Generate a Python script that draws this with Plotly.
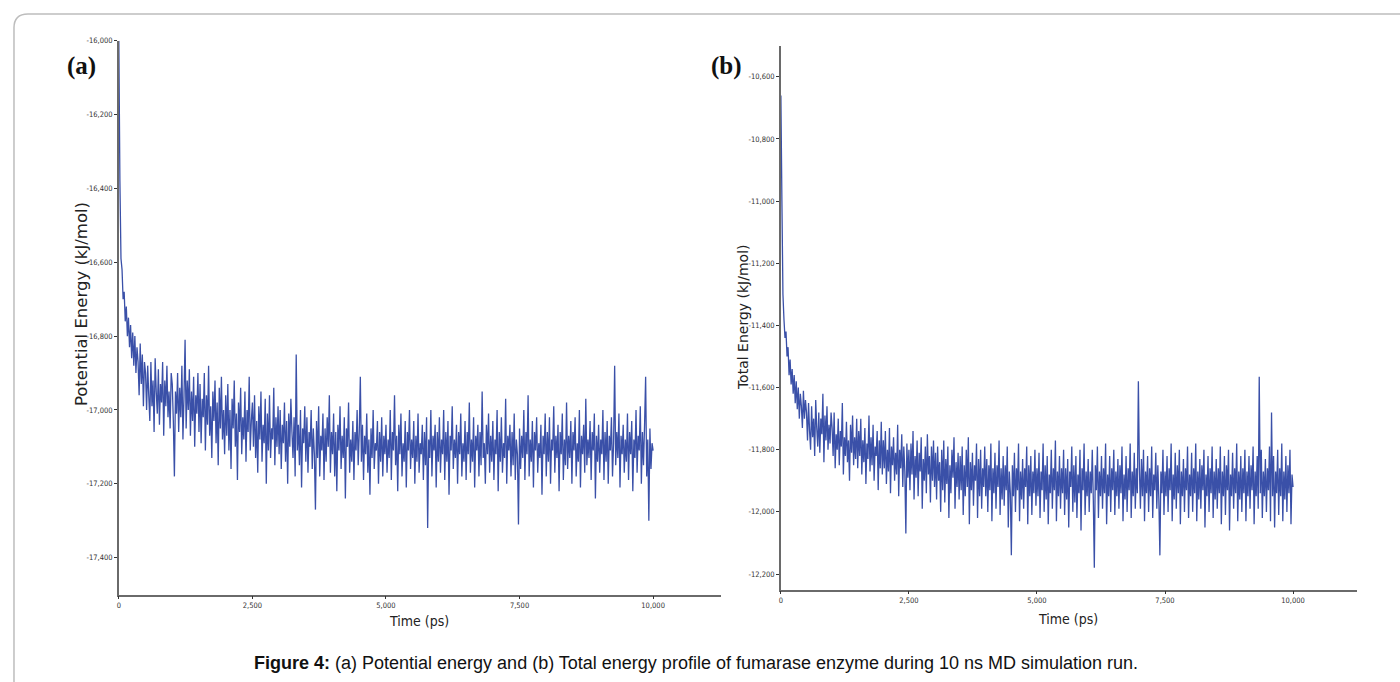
import plotly.graph_objects as go

# ---------------- data ----------------
SAMPLE_INTERVAL_PS = 20

potential_energy = [
    -16000, -16380, -16590, -16620, -16700, -16680, -16760, -16720, -16800, -16750, -16830, -16770, -16860, -16790, -16880, -16800, -16900, -16830, -16870, -16960, -16820, -16930, -16850, -16990, -16870,
    -16900, -17000, -16880, -16960, -17030, -16870, -16990, -16920, -17060, -16860, -16950, -17010, -16890, -17040, -16930, -16980, -16870, -17070, -16920, -16990, -16880, -17020, -16950, -17050, -16900,
    -16930, -17030, -17180, -16950, -17010, -16900, -17060, -16940, -17020, -16880, -17080, -16960, -16810, -17050, -16920, -17000, -16890, -17070, -16950, -17030, -16910, -17100, -16960, -17010, -16900,
    -17060, -16930, -17090, -16970, -17020, -16900, -17110, -16960, -17040, -16880, -17070, -16990, -17130, -16950, -17030, -16920, -17090, -16980, -17150, -16940, -17050, -16910, -17080, -17000, -17120,
    -16960, -17070, -16930, -17110, -17000, -17160, -16970, -17050, -16920, -17100, -17010, -17190, -16980, -17060, -16940, -17120, -17020, -17080, -16950, -17140, -17000, -17060, -16910, -17110, -17030,
    -16980, -17100, -16960, -17130, -17030, -17170, -16990, -17080, -16950, -17140, -17040, -17090, -16970, -17200, -17010, -17110, -16960, -17130, -17050, -17080, -16940, -17150, -17020, -17100, -16990,
    -17120, -17000, -17160, -17040, -17090, -16980, -17140, -17030, -17200, -17010, -17100, -16970, -17060, -17130, -17020, -17180, -16850, -17110, -17040, -17150, -17000, -17210, -17050, -17090, -16990,
    -17140, -17020, -17170, -17060, -17100, -17000, -17160, -17050, -17120, -17270, -17030, -17130, -16990, -17180, -17070, -17110, -17010, -17190, -17050, -17140, -17020, -17100, -16960, -17170, -17060,
    -17120, -17010, -17180, -17060, -17220, -17040, -17110, -16990, -17160, -17070, -17130, -17020, -17240, -17050, -17100, -16980, -17170, -17080, -17140, -17030, -17190, -17060, -17110, -17000, -17150,
    -17060, -16910, -17140, -17040, -17190, -17070, -17120, -17010, -17170, -17080, -17230, -17050, -17130, -17000, -17160, -17090, -17110, -17030, -17200, -17060, -17140, -17020, -17180, -17070, -17120,
    -17040, -17170, -17080, -17130, -17000, -17190, -17060, -17110, -16960, -17150, -17070, -17220, -17040, -17120, -17010, -17180, -17090, -17140, -17030, -17210, -17060, -17110, -17000, -17160, -17080,
    -17130, -17030, -17200, -17070, -17140, -17010, -17170, -17090, -17120, -17040, -17190, -17060, -17150, -17020, -17320, -17080, -17130, -17000, -17180, -17070, -17110, -17040, -17210, -17060, -17140,
    -17020, -17170, -17080, -17120, -17000, -17190, -17060, -17140, -17030, -17230, -17070, -17110, -16990, -17160, -17080, -17130, -17040, -17200, -17060, -17120, -17010, -17180, -17090, -17140, -17030,
    -17190, -17060, -17120, -16980, -17170, -17080, -17140, -17020, -17210, -17070, -17110, -17040, -17180, -17060, -17150, -16950, -17130, -17090, -17200, -17040, -17120, -17010, -17170, -17070, -17140,
    -17030, -17190, -17080, -17120, -17000, -17220, -17060, -17140, -17020, -17170, -17090, -17130, -16970, -17200, -17070, -17110, -17040, -17180, -17060, -17150, -17010, -17190, -17080, -17120, -17310,
    -17050, -17160, -17070, -17130, -17000, -17190, -17060, -17120, -16960, -17180, -17080, -17140, -17030, -17210, -17060, -17110, -17020, -17170, -17090, -17130, -17040, -17230, -17070, -17120, -17010,
    -17180, -17060, -17140, -17020, -17200, -17080, -17110, -16990, -17170, -17070, -17130, -17040, -17220, -17060, -17120, -17010, -17190, -17080, -17150, -16980, -17160, -17070, -17130, -17030, -17200,
    -17060, -17110, -17020, -17180, -17090, -17140, -17000, -17210, -17070, -17120, -17040, -17170, -16970, -17150, -17080, -17130, -17030, -17190, -17060, -17110, -17010, -17240, -17070, -17140, -17040,
    -17170, -17080, -17120, -17000, -17190, -17060, -17140, -17030, -17200, -17070, -17110, -17020, -17180, -17090, -16880, -17150, -17060, -17130, -17010, -17210, -17070, -17120, -17040, -17170, -17080,
    -17140, -17010, -17190, -17060, -17120, -17030, -17220, -17080, -17130, -17000, -17170, -17070, -17110, -16990, -17200, -17060, -17150, -17040, -16910, -17180, -17080, -17300, -17050, -17160, -17090,
    -17110,
]

total_energy = [
    -10660, -11000, -11300, -11380, -11440, -11420, -11500, -11470, -11560, -11510, -11590, -11540, -11620, -11560, -11650, -11580, -11670, -11600, -11700, -11620, -11660, -11730, -11610, -11700, -11640,
    -11680, -11770, -11650, -11740, -11800, -11660, -11760, -11700, -11820, -11640, -11730, -11790, -11680, -11810, -11700, -11750, -11620, -11840, -11690, -11770, -11660, -11800, -11720, -11780, -11680,
    -11730, -11820, -11680, -11860, -11750, -11800, -11700, -11850, -11740, -11790, -11650, -11880, -11760, -11820, -11710, -11840, -11770, -11900, -11720, -11810, -11690, -11850, -11760, -11830, -11700,
    -11860, -11740, -11820, -11700, -11880, -11770, -11840, -11730, -11910, -11780, -11830, -11690, -11870, -11760, -11850, -11720, -11900, -11790, -11820, -11740, -11930, -11770, -11860, -11710, -11880,
    -11770, -11860, -11740, -11910, -11800, -11870, -11730, -11940, -11790, -11850, -11760, -11900, -11810, -11880, -11720, -11950, -11800, -11860, -11750, -11920, -11790, -11870, -12070, -11780, -11890,
    -11800, -11930, -11780, -11880, -11740, -11960, -11820, -11890, -11770, -11950, -11810, -11870, -11760, -11990, -11830, -11900, -11790, -11940, -11750, -11880, -11820, -11970, -11790, -11900, -11770,
    -11920, -11810, -11960, -11790, -11900, -11840, -12000, -11800, -11930, -11770, -11970, -11830, -11910, -11790, -12020, -11850, -11940, -11800, -11890, -11760, -11990, -11840, -11920, -11810, -11960,
    -11820, -11930, -11790, -12010, -11850, -11950, -11800, -11920, -11760, -12040, -11840, -11930, -11810, -11980, -11850, -11900, -11780, -12020, -11830, -11950, -11800, -11990, -11860, -11920, -11790,
    -11950, -11830, -12000, -11850, -11930, -11780, -12030, -11860, -11940, -11810, -11990, -11850, -11920, -11770, -12010, -11860, -11960, -11820, -11980, -11850, -11930, -11790, -12050, -11870, -11940,
    -12140, -11850, -11950, -11810, -12000, -11860, -11930, -11780, -12030, -11870, -11960, -11830, -11990, -11860, -11920, -11790, -12040, -11850, -11950, -11820, -12010, -11870, -11940, -11800, -11980,
    -11860, -11950, -11810, -12020, -11870, -11930, -11780, -12000, -11850, -11960, -11820, -12040, -11880, -11940, -11800, -11990, -11860, -11930, -11770, -12030, -11870, -11950, -11820, -11990, -11860,
    -11940, -11800, -12010, -11860, -11960, -11830, -12050, -11870, -11920, -11790, -12000, -11850, -11970, -11820, -12020, -11880, -11940, -11800, -12060, -11860, -11930, -11780, -12010, -11870, -11950,
    -11830, -12000, -11870, -11940, -11800, -11960, -12180, -11850, -11930, -11790, -12020, -11870, -11950, -11820, -11990, -11860, -11940, -11780, -12040, -11880, -11950, -11820, -12000, -11860, -11930,
    -11800, -12010, -11870, -11950, -11830, -11990, -11850, -11940, -11790, -12030, -11880, -11960, -11820, -12000, -11860, -11930, -11780, -12020, -11870, -11950, -11810, -11990, -11860, -11940, -11580,
    -11860, -11990, -11830, -11950, -11800, -12030, -11870, -11940, -11820, -12000, -11860, -11950, -11790, -12020, -11880, -11930, -11810, -11990, -11850, -11960, -12140, -11870, -11940, -11800, -12010,
    -11870, -11950, -11820, -12000, -11860, -11930, -11780, -12030, -11880, -11960, -11810, -11990, -11850, -11940, -11800, -12040, -11870, -11950, -11830, -12000, -11860, -11930, -11790, -12020, -11880,
    -11950, -11810, -12000, -11860, -11940, -11780, -12030, -11870, -11960, -11830, -11990, -11850, -11930, -11800, -12050, -11880, -11950, -11820, -12000, -11860, -11940, -11790, -12020, -11870, -11960,
    -11830, -11990, -11860, -11940, -11790, -12040, -11870, -11950, -11820, -12010, -11850, -11930, -11800, -12060, -11880, -11950, -11810, -11990, -11860, -11940, -11780, -12030, -11870, -11960, -11820,
    -12000, -11860, -11940, -11800, -12030, -11870, -11950, -11820, -11990, -11850, -11930, -11790, -12040, -11870, -11950, -11820, -11990, -11565, -11940, -11800, -12020, -11870, -11950, -11830, -12000,
    -11860, -11930, -11790, -12030, -11680, -11950, -11820, -12050, -11870, -11940, -11800, -12010, -11860, -11950, -11780, -12030, -11870, -11960, -11820, -12000, -11850, -11940, -11800, -12040, -11880,
    -11920,
]

time_pe = [i * SAMPLE_INTERVAL_PS for i in range(len(potential_energy))]
time_te = [i * SAMPLE_INTERVAL_PS for i in range(len(total_energy))]

x_tick_vals = [0, 2500, 5000, 7500, 10000]
x_tick_text = ["0", "2,500", "5,000", "7,500", "10,000"]
pe_tick_vals = [-16000, -16200, -16400, -16600, -16800, -17000, -17200, -17400]
pe_tick_text = ["-16,000", "-16,200", "-16,400", "-16,600", "-16,800", "-17,000", "-17,200", "-17,400"]
te_tick_vals = [-10600, -10800, -11000, -11200, -11400, -11600, -11800, -12000, -12200]
te_tick_text = ["-10,600", "-10,800", "-11,000", "-11,200", "-11,400", "-11,600", "-11,800", "-12,000", "-12,200"]

# ---------------- layout helpers ----------------
W, H = 1400, 682


def px(x):
    return x / W


def py(y):
    return 1 - y / H


LINE_COLOR = "#3a50a8"
AXIS_COLOR = "#6a6a6a"
TICK_FONT = dict(family="DejaVu Sans Condensed, Liberation Sans Narrow, sans-serif",
                 size=7.5, color="#333333")
TITLE_FONT_FAMILY = "DejaVu Sans Condensed, DejaVu Sans, Verdana, sans-serif"

fig = go.Figure()
fig.add_trace(go.Scatter(x=time_pe, y=potential_energy, mode="lines",
                         line=dict(color=LINE_COLOR, width=1.3, simplify=False), xaxis="x", yaxis="y",
                         showlegend=False, hoverinfo="skip"))
fig.add_trace(go.Scatter(x=time_te, y=total_energy, mode="lines",
                         line=dict(color=LINE_COLOR, width=1.3, simplify=False), xaxis="x2", yaxis="y2",
                         showlegend=False, hoverinfo="skip"))

axis_common = dict(showline=True, linecolor=AXIS_COLOR, linewidth=1.5, showgrid=False,
                   zeroline=False, ticks="outside", ticklen=3, tickwidth=1,
                   tickcolor="#333333", tickfont=TICK_FONT, tickmode="array")

fig.update_layout(
    width=W, height=H,
    margin=dict(l=0, r=0, t=0, b=0),
    paper_bgcolor="white", plot_bgcolor="white",
    xaxis=dict(domain=[px(117), px(720)], range=[0, 11270], anchor="y",
               tickvals=x_tick_vals, ticktext=x_tick_text, **axis_common),
    yaxis=dict(domain=[py(594), py(37)], range=[-17500, -16000], anchor="x",
               tickvals=pe_tick_vals, ticktext=pe_tick_text, **axis_common),
    xaxis2=dict(domain=[px(780), px(1357)], range=[0, 11250], anchor="y2",
                tickvals=x_tick_vals, ticktext=x_tick_text, **axis_common),
    yaxis2=dict(domain=[py(589), py(42)], range=[-12250, -10500], anchor="x2",
                tickvals=te_tick_vals, ticktext=te_tick_text, **axis_common),
)

annotations = [
    dict(text="Time (ps)", x=px(418), y=py(621), showarrow=False,
         font=dict(family=TITLE_FONT_FAMILY, size=14, color="#222222")),
    dict(text="Time (ps)", x=px(1068), y=py(619), showarrow=False,
         font=dict(family=TITLE_FONT_FAMILY, size=14, color="#222222")),
    dict(text="Potential Energy (kJ/mol)", x=px(79), y=py(302), showarrow=False, textangle=-90,
         font=dict(family="DejaVu Sans, Verdana, sans-serif", size=16.5, color="#222222")),
    dict(text="Total Energy (kJ/mol)", x=px(742), y=py(315), showarrow=False, textangle=-90,
         font=dict(family="DejaVu Sans, Verdana, sans-serif", size=14, color="#222222")),
    dict(text="<b>(a)</b>", x=px(80), y=py(62), showarrow=False,
         font=dict(family="Liberation Serif, Times New Roman, serif", size=25, color="#111111")),
    dict(text="<b>(b)</b>", x=px(726), y=py(62), showarrow=False,
         font=dict(family="Liberation Serif, Times New Roman, serif", size=25, color="#111111")),
    dict(text="<b>Figure 4:</b> (a) Potential energy and (b) Total energy profile of fumarase enzyme during 10 ns MD simulation run.",
         x=px(695), y=py(663), showarrow=False,
         font=dict(family="Liberation Sans, Arial, sans-serif", size=18, color="#111111")),
]
for a in annotations:
    a.update(xref="paper", yref="paper", xanchor="center", yanchor="middle")
fig.update_layout(annotations=annotations)

# rounded frame (top & left visible)
path = (f"M {px(12)},{py(720)} L {px(12)},{py(24)} "
        f"Q {px(12)},{py(10)} {px(26)},{py(10)} L {px(1440)},{py(10)}")
fig.add_shape(type="path", path=path, xref="paper", yref="paper",
              line=dict(color="#bdbdbd", width=1.5))

fig.write_html("out.html", config={"displayModeBar": False},
               post_script="document.body.style.margin='0';")
